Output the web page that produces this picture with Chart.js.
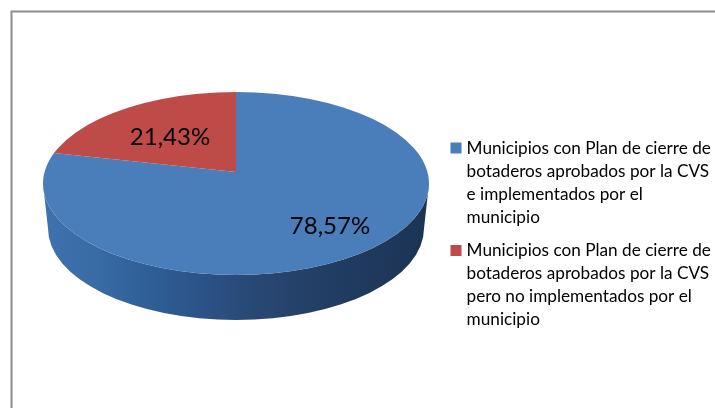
<!DOCTYPE html>
<html><head><meta charset="utf-8">
<style>html,body{margin:0;padding:0;background:#fff}canvas{display:block}</style>
<script src="https://cdn.jsdelivr.net/npm/chart.js@4"></script>
</head><body><canvas id="c" width="715" height="408"></canvas>
<script>
const categories = [
  ["Municipios con Plan de cierre de","botaderos aprobados por la CVS","e implementados por el","municipio"],
  ["Municipios con Plan de cierre de","botaderos aprobados por la CVS","pero no implementados por el","municipio"]
];
const values = [78.57, 21.43];
const valueLabels = ["78,57%", "21,43%"];
const sliceColors = ["#4A7EBB", "#BE4B48"];

const rim = {cx:236, cy:183.5, rx:193, ry:91.5, depth:45, rxBase:188};
const apex = {y:172, rx:212, ryTop:96.5, ryBottom:114};
const labelSpots = [[330,226],[170,137]];

const frame = {
  id:'frame',
  beforeDraw(chart){
    const c=chart.ctx; c.save();
    c.fillStyle='#fff'; c.fillRect(0,0,715,408);
    c.strokeStyle='#8c8c8c'; c.lineWidth=2;
    c.beginPath(); c.moveTo(11.5,408); c.lineTo(11.5,11.5); c.lineTo(715,11.5); c.stroke();
    c.restore();
  }
};
const placeLegend = {
  id:'placeLegend',
  afterLayout(chart){
    const l=chart.legend;
    l.left=443.5; l.right=715; l.top=129; l.bottom=408;
  }
};
const pie3d = {
  id:'pie3d',
  beforeDatasetsDraw(chart){
    const c=chart.ctx, g=rim, meta=chart.getDatasetMeta(0), arcs=meta.data;
    const a0=arcs[0], R=a0.outerRadius;
    const grad=c.createLinearGradient(g.cx-g.rx,0,g.cx+g.rx,0);
    [[0,'#3F72AE'],[0.15,'#386AA3'],[0.3,'#2E5C94'],[0.42,'#2B5287'],[0.52,'#294A77'],[0.65,'#25426A'],[0.8,'#203B60'],[1,'#1C3353']]
      .forEach(s=>grad.addColorStop(s[0],s[1]));
    arcs.forEach(a=>{
      const st=Math.max(a.startAngle,0), en=Math.min(a.endAngle,Math.PI);
      if(en<=st) return;
      c.save(); c.beginPath();
      c.ellipse(g.cx,g.cy,g.rx,g.ry,0,st,en);
      c.ellipse(g.cx,g.cy+g.depth,g.rxBase,g.ry,0,en,st,true);
      c.closePath(); c.fillStyle=grad; c.fill(); c.restore();
    });
    const pass=(y0,h,ry)=>{
      c.save();
      c.beginPath(); c.ellipse(g.cx,g.cy,g.rx,g.ry,0,0,Math.PI*2); c.clip();
      c.beginPath(); c.rect(0,y0,715,h); c.clip();
      c.translate(g.cx,apex.y); c.scale(apex.rx/R,ry/R); c.translate(-a0.x,-a0.y);
      meta.controller.draw(); c.restore();
    };
    pass(0,apex.y,apex.ryTop);
    pass(apex.y,408-apex.y,apex.ryBottom);
    c.save();
    c.font='24px Lato'; c.fillStyle='#000'; c.textAlign='center'; c.textBaseline='middle';
    valueLabels.forEach((t,i)=>c.fillText(t,labelSpots[i][0],labelSpots[i][1]));
    c.restore();
    return false;
  }
};
new Chart(document.getElementById('c'),{
  type:'pie',
  data:{labels:categories,datasets:[{data:values,backgroundColor:sliceColors,borderWidth:0}]},
  options:{
    responsive:false,animation:false,events:[],
    plugins:{
      tooltip:{enabled:false},
      legend:{
        position:'right',align:'start',
        labels:{
          boxWidth:4,boxHeight:4,padding:10.5,color:'#111',
          font:{family:'Lato',size:17.2,lineHeight:23/17.2},
          generateLabels(chart){
            return categories.map((t,i)=>({text:t,fillStyle:sliceColors[i],strokeStyle:sliceColors[i],lineWidth:7,index:i}));
          }
        }
      }
    }
  },
  plugins:[frame,pie3d,placeLegend]
});
</script></body></html>
